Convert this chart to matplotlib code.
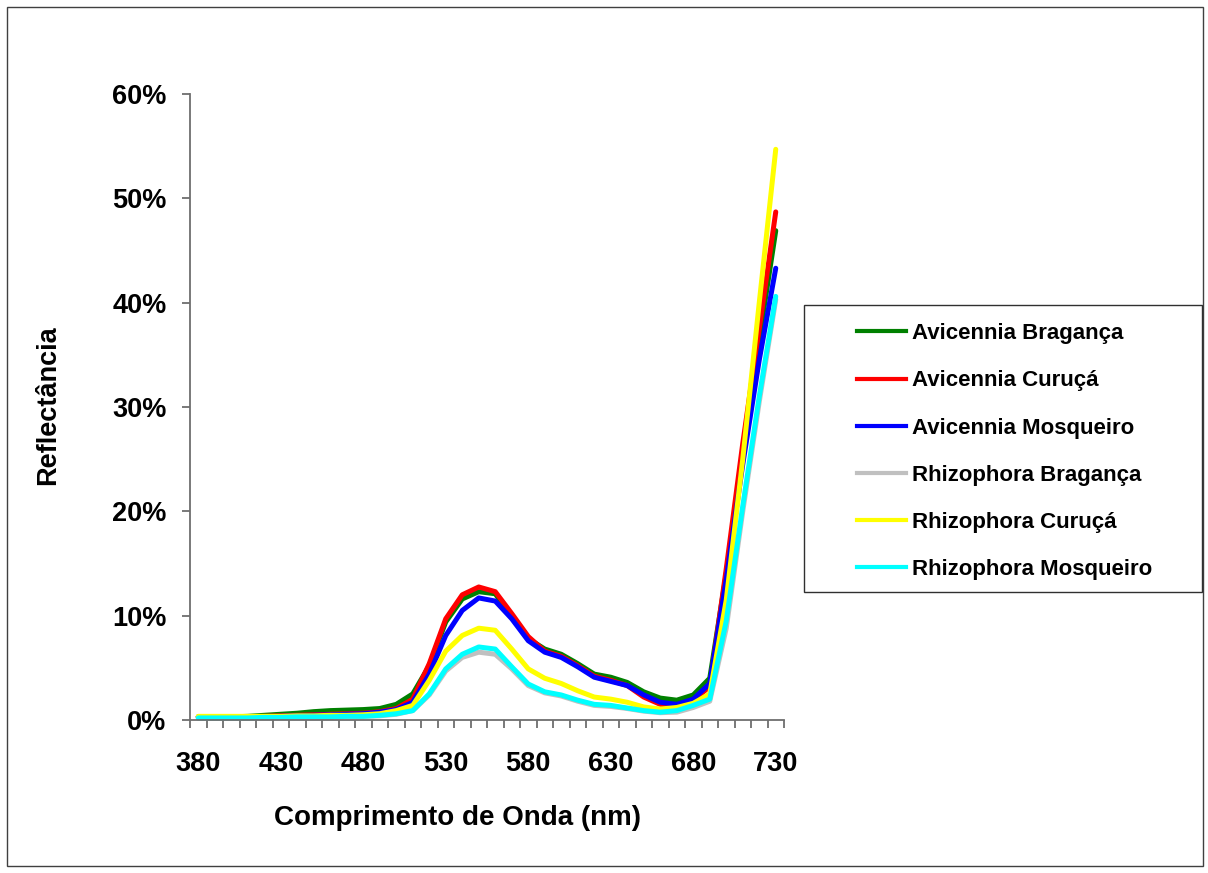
import matplotlib
matplotlib.use("Agg")
import matplotlib.pyplot as plt
from matplotlib.patches import Rectangle
from matplotlib.lines import Line2D
from matplotlib.ticker import FuncFormatter, MultipleLocator
import numpy as np

plt.rcParams['font.family'] = ['Liberation Sans', 'DejaVu Sans']
plt.rcParams['font.weight'] = 'bold'

wavelengths = list(range(380, 731, 10))

series_names = ["Avicennia Bragança", "Avicennia Curuçá", "Avicennia Mosqueiro",
                "Rhizophora Bragança", "Rhizophora Curuçá", "Rhizophora Mosqueiro"]
series_colors = ["#008000", "#FF0000", "#0000FF", "#C0C0C0", "#FFFF00", "#00FFFF"]

avicennia_braganca = [0.30, 0.30, 0.30, 0.35, 0.45, 0.55, 0.65, 0.80, 0.90, 0.95, 1.00, 1.10,
                      1.50, 2.50, 5.20, 9.40, 11.60, 12.30, 12.10, 9.90, 7.80, 6.80, 6.30, 5.40,
                      4.40, 4.10, 3.60, 2.70, 2.10, 1.90, 2.40, 4.00, 14.0, 25.5, 36.5, 46.9]
avicennia_curuca = [0.30, 0.30, 0.30, 0.30, 0.35, 0.40, 0.45, 0.50, 0.55, 0.60, 0.65, 0.80,
                    1.10, 2.00, 5.40, 9.70, 12.00, 12.75, 12.30, 10.20, 8.00, 6.60, 6.10, 5.20,
                    4.20, 3.80, 3.30, 2.20, 1.50, 1.40, 1.90, 3.20, 14.5, 26.5, 37.5, 48.7]
avicennia_mosqueiro = [0.30, 0.30, 0.30, 0.30, 0.30, 0.35, 0.40, 0.45, 0.50, 0.55, 0.60, 0.75,
                       1.00, 1.70, 4.40, 8.10, 10.50, 11.70, 11.40, 9.70, 7.60, 6.50, 6.00, 5.10,
                       4.10, 3.70, 3.30, 2.40, 1.70, 1.50, 2.00, 3.50, 13.5, 24.5, 34.5, 43.3]
rhizophora_braganca = [0.20, 0.20, 0.20, 0.20, 0.25, 0.25, 0.30, 0.30, 0.30, 0.35, 0.35, 0.40,
                       0.55, 0.90, 2.40, 4.70, 6.00, 6.50, 6.30, 4.90, 3.30, 2.60, 2.30, 1.80,
                       1.40, 1.30, 1.10, 0.85, 0.70, 0.75, 1.20, 1.80, 8.8, 20.0, 30.5, 40.3]
rhizophora_curuca = [0.35, 0.35, 0.35, 0.35, 0.35, 0.35, 0.40, 0.40, 0.45, 0.45, 0.50, 0.60,
                     0.90, 1.40, 3.80, 6.60, 8.10, 8.80, 8.60, 6.80, 4.90, 4.00, 3.50, 2.80,
                     2.20, 2.00, 1.70, 1.25, 1.05, 1.20, 1.60, 2.50, 11.5, 25.0, 40.0, 54.7]
rhizophora_mosqueiro = [0.20, 0.20, 0.20, 0.20, 0.25, 0.25, 0.30, 0.30, 0.30, 0.35, 0.35, 0.45,
                        0.60, 0.90, 2.50, 4.90, 6.30, 7.00, 6.80, 5.10, 3.45, 2.70, 2.40, 1.90,
                        1.50, 1.40, 1.15, 0.90, 0.75, 0.90, 1.40, 2.00, 9.5, 20.5, 31.0, 40.6]

series_values = [avicennia_braganca, avicennia_curuca, avicennia_mosqueiro,
                 rhizophora_braganca, rhizophora_curuca, rhizophora_mosqueiro]

x_tick_labels = list(range(380, 731, 50))
y_ticks = [0, 10, 20, 30, 40, 50, 60]

W, H = 1208, 873
fig = plt.figure(figsize=(W / 100, H / 100), dpi=100)
fig.patch.set_facecolor("white")

# outer chart border
fig.add_artist(Rectangle((7 / W, 1 - 866 / H), 1196 / W, 859 / H, transform=fig.transFigure,
                         fill=False, edgecolor="#404040", linewidth=1.0))

ax = fig.add_axes([190 / W, 1 - 720 / H, 594 / W, 626 / H])
ax.set_facecolor("white")

for vals, name, col in zip(series_values, series_names, series_colors):
    ax.plot(wavelengths, vals, color=col, linewidth=3.6, label=name,
            solid_joinstyle="round", solid_capstyle="round", clip_on=False)

ax.set_xlim(375, 735)
ax.set_ylim(0, 60)

for s in ["top", "right"]:
    ax.spines[s].set_visible(False)
for s in ["left", "bottom"]:
    ax.spines[s].set_color("#6e6e6e")
    ax.spines[s].set_linewidth(1.3)

ax.set_xticks(x_tick_labels)
ax.set_xticklabels([str(v) for v in x_tick_labels])
ax.xaxis.set_minor_locator(MultipleLocator(10, offset=5))
ax.tick_params(axis="x", which="major", length=0, pad=22, labelsize=19.5)
ax.tick_params(axis="x", which="minor", length=6, width=1.3, color="#6e6e6e", direction="out")

ax.set_yticks(y_ticks)
ax.yaxis.set_major_formatter(FuncFormatter(lambda v, p: f"{v:.0f}%"))
ax.tick_params(axis="y", which="major", length=6, width=1.3, color="#6e6e6e",
               direction="out", pad=11, labelsize=19.5)

ax.set_xlabel("Comprimento de Onda (nm)", fontsize=20, fontweight="bold")
ax.xaxis.set_label_coords((457 - 190) / 594, -(805 - 720) / 626)
ax.set_ylabel("Reflectância", fontsize=19.5, fontweight="bold")
ax.yaxis.set_label_coords(-(190 - 61) / 594, (720 - 405) / 626)

# legend frame
fig.add_artist(Rectangle((804 / W, 1 - 592 / H), 398 / W, 287 / H, transform=fig.transFigure,
                         fill=False, edgecolor="#303030", linewidth=1.0))
handles = [Line2D([0], [0], color=c, linewidth=3.0) for c in series_colors]
fig.legend(handles, series_names, loc="upper left",
           bbox_to_anchor=(846 / W, 1 - 312 / H), frameon=False, borderpad=0,
           handlelength=2.2, handletextpad=0.25, labelspacing=1.18,
           prop={"family": ["Liberation Sans", "DejaVu Sans"], "weight": "bold", "size": 16})

fig.savefig("out.png", dpi=100, facecolor="white")
